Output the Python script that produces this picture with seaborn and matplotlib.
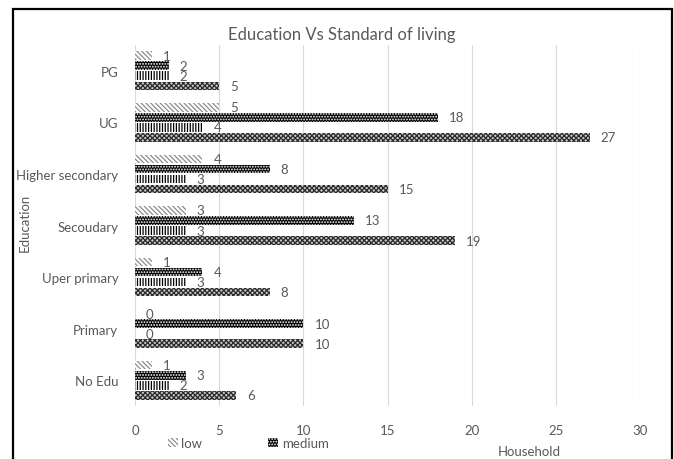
import matplotlib
matplotlib.use("Agg")
import matplotlib.pyplot as plt
import seaborn as sns
import pandas as pd
from matplotlib.patches import Rectangle

categories = ["PG", "UG", "Higher secondary", "Secoudary", "Uper primary", "Primary", "No Edu"]
series = ["low", "medium", "high", "total"]
low = [1, 5, 4, 3, 1, 0, 1]
medium = [2, 18, 8, 13, 4, 10, 3]
high = [2, 4, 3, 3, 3, 0, 2]
total = [5, 27, 15, 19, 8, 10, 6]
xticks = [0, 5, 10, 15, 20, 25, 30]

rows = []
for name, vals in zip(series, [low, medium, high, total]):
    for c, v in zip(categories, vals):
        rows.append({"Education": c, "Series": name, "Household": v})
df = pd.DataFrame(rows)

sns.set_style("white")
plt.rcParams["font.family"] = ["Lato", "DejaVu Sans"]
plt.rcParams["hatch.linewidth"] = 0.9

fig = plt.figure(figsize=(6.74, 4.6), dpi=100)
ax = fig.add_axes([135 / 674, 1 - 407 / 460, (640 - 135) / 674, (407 - 46) / 460])

sns.barplot(data=df, y="Education", x="Household", hue="Series", order=categories,
            hue_order=series, orient="h", width=0.78, gap=0.14, ax=ax, errorbar=None,
            legend=False)

styles = [
    dict(face="white", edge="#8c8c8c", hatch="\\\\\\\\\\\\\\"),
    dict(face="black", edge="white", hatch="......"),
    dict(face="white", edge="black", hatch="||||||"),
    dict(face="#c8c8c8", edge="#2a2a2a", hatch="xxxxxxx"),
]
for cont, st in zip(ax.containers, styles):
    for p in cont:
        p.set_facecolor(st["face"])
        p.set_edgecolor(st["edge"])
        p.set_hatch(st["hatch"])
        p.set_linewidth(0)
    ax.bar_label(cont, padding=8, fontsize=9.5, color="#595959")

ax.set_xlim(0, 30)
ax.set_xticks(xticks)
ax.set_xticklabels([str(t) for t in xticks])
ax.grid(axis="x", color="#d9d9d9", linewidth=0.8)
ax.set_axisbelow(True)
for s in ax.spines.values():
    s.set_visible(False)
ax.tick_params(axis="both", length=0, colors="#595959", labelsize=9.5)
ax.tick_params(axis="x", pad=13)
ax.tick_params(axis="y", pad=12)
ax.set_xlabel("")
ax.set_ylabel("")

fig.text(342 / 674, 1 - 35 / 460, "Education Vs Standard of living", ha="center", va="center",
         fontsize=12, color="#595959")
fig.text(25 / 674, 1 - 223 / 460, "Education", rotation=90, ha="center", va="center",
         fontsize=9.5, color="#595959")
fig.text(529 / 674, 1 - 452 / 460, "Household", ha="center", va="center",
         fontsize=9.5, color="#595959")

handles = [ax.containers[0][0], ax.containers[1][0]]
leg = fig.legend(handles, ["low", "medium"], loc="center left",
                 bbox_to_anchor=(163 / 674, 1 - 444 / 460), ncol=2, frameon=False,
                 fontsize=9.5, handlelength=0.7, handleheight=0.7, handletextpad=0.3,
                 columnspacing=5.0, labelcolor="#595959", borderaxespad=0)

fig.add_artist(Rectangle((13 / 674, -0.01), (672 - 13) / 674, 1 - 10 / 460 + 0.01,
                         transform=fig.transFigure, fill=False, edgecolor="black",
                         linewidth=1.6))

fig.savefig("out.png", dpi=100)
